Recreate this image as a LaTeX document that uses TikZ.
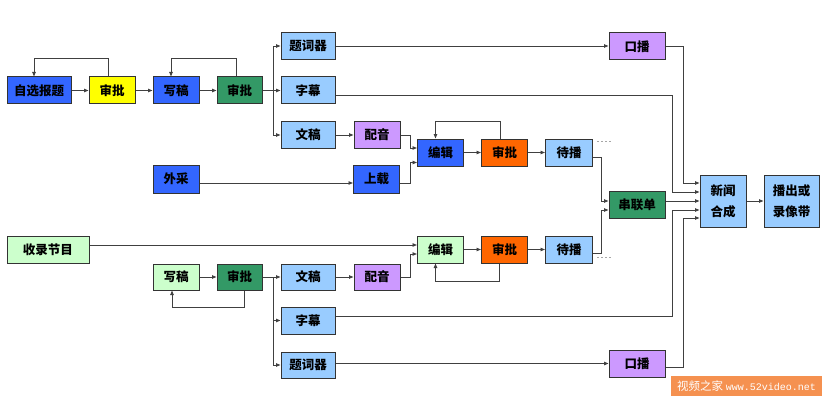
\documentclass[tikz,border=0pt]{standalone}
\usepackage{fontspec}
\newfontfamily\cjk{Noto Sans CJK SC}
\setmonofont{Liberation Mono}
\usetikzlibrary{positioning}
\usetikzlibrary{arrows.meta}

\definecolor{bluebox}{RGB}{51,102,255}
\definecolor{yellowbox}{RGB}{255,255,0}
\definecolor{greenbox}{RGB}{51,153,102}
\definecolor{lightbox}{RGB}{153,204,255}
\definecolor{purplebox}{RGB}{204,153,255}
\definecolor{orangebox}{RGB}{255,102,0}
\definecolor{greenlight}{RGB}{204,255,204}
\definecolor{markorange}{RGB}{245,145,80}

\begin{document}
\begin{tikzpicture}[x=1pt, y=-1pt, node distance=17pt,
	box/.style={draw=black!80, line width=1pt, rectangle, minimum height=27pt,
		inner sep=0pt, font=\cjk\bfseries\fontsize{12.5}{14}\selectfont},
	twoline/.style={align=center, minimum height=52pt,
		font=\cjk\bfseries\fontsize{12.5}{21}\selectfont},
	arr/.style={-{Triangle[length=4.5pt,width=3.5pt]}, draw=black!75, line width=0.9pt},
	ln/.style={draw=black!75, line width=0.9pt},
	dashtail/.style={draw=black!35, dash pattern=on 2pt off 2pt, line width=0.6pt}]
	\useasboundingbox (0,0) rectangle (828,412);

	% upper route
	\node (zixuan) [box, fill=bluebox, minimum width=64pt] at (39,90.5) {自选报题};
	\node (shen1) [box, right=of zixuan, fill=yellowbox, minimum width=46pt] {审批};
	\node (xie1) [box, right=of shen1, fill=bluebox, minimum width=46pt] {写稿};
	\node (shen2) [box, right=of xie1, fill=greenbox, minimum width=45pt] {审批};
	\node (tici1) [box, fill=lightbox, minimum width=54pt] at (308,46) {题词器};
	\node (zimu1) [box, fill=lightbox, minimum width=54pt] at (308,90.5) {字幕};
	\node (wengao1) [box, fill=lightbox, minimum width=54pt] at (308,135) {文稿};
	\node (peiyin1) [box, right=18pt of wengao1, fill=purplebox, minimum width=46pt] {配音};
	\node (waicai) [box, fill=bluebox, minimum width=46pt, minimum height=28pt] at (176,179) {外采};
	\node (shangzai) [box, fill=bluebox, minimum width=46pt, minimum height=28pt] at (376.5,179) {上载};
	\node (bianji1) [box, fill=bluebox, minimum width=46pt] at (440.5,152.5) {编辑};
	\node (shen3) [box, right=of bianji1, fill=orangebox, minimum width=46pt] {审批};
	\node (daibo1) [box, right=of shen3, fill=lightbox, minimum width=47pt] {待播};
	\node (koubo1) [box, fill=purplebox, minimum width=56pt] at (637,46.5) {口播};

	% merge
	\node (chuanlian) [box, fill=greenbox, minimum width=56pt] at (637,205) {串联单};
	\node (xinwen) [box, twoline, fill=lightbox, minimum width=46pt] at (723,201) {新闻\\合成};
	\node (bochu) [box, twoline, right=of xinwen, fill=lightbox, minimum width=55pt] {播出或\\录像带};

	% lower route
	\node (shoulu) [box, fill=greenlight, minimum width=82pt] at (48,249.5) {收录节目};
	\node (bianji2) [box, fill=greenlight, minimum width=46pt] at (440.5,249.5) {编辑};
	\node (shen5) [box, right=of bianji2, fill=orangebox, minimum width=46pt] {审批};
	\node (daibo2) [box, right=of shen5, fill=lightbox, minimum width=47pt] {待播};
	\node (xie2) [box, fill=greenlight, minimum width=46pt, minimum height=26pt] at (176,277) {写稿};
	\node (shen4) [box, right=of xie2, fill=greenbox, minimum width=45pt, minimum height=26pt] {审批};
	\node (wengao2) [box, fill=lightbox, minimum width=54pt, minimum height=26pt] at (308,277) {文稿};
	\node (peiyin2) [box, right=18pt of wengao2, fill=purplebox, minimum width=46pt, minimum height=26pt] {配音};
	\node (zimu2) [box, fill=lightbox, minimum width=54pt] at (308,320.5) {字幕};
	\node (tici2) [box, fill=lightbox, minimum width=54pt, minimum height=26pt] at (308,365) {题词器};
	\node (koubo2) [box, fill=purplebox, minimum width=56pt] at (637,363.5) {口播};

	\node (mark) [fill=markorange, minimum width=151pt, minimum height=20pt, inner sep=0pt,
		text=white] at (746.5,386) {\cjk\fontsize{11.5}{12}\selectfont 视频之家\ %
		{\ttfamily\fontsize{10}{12}\selectfont www.52video.net}};

	% upper connectors
	\draw[arr] (zixuan) -- (shen1);
	\draw[arr] (shen1) -- (xie1);
	\draw[arr] (xie1) -- (shen2);
	\draw[arr] ([xshift=-4pt]shen1.north) -- ++(0,-18) -| ([xshift=-5pt]zixuan.north);
	\draw[arr] ([xshift=-3pt]shen2.north) -- ++(0,-18) -| ([xshift=-5pt]xie1.north);
	\coordinate (fork1) at (273,90.5);
	\draw[ln] (shen2) -- (fork1);
	\draw[arr] (fork1) |- (tici1);
	\draw[arr] (fork1) -- (zimu1);
	\draw[arr] (fork1) |- (wengao1);
	\draw[arr] (wengao1) -- (peiyin1);
	\draw[arr] (peiyin1.east) -- ++(10,0) |- ([yshift=4.5pt]bianji1.west);
	\draw[arr] ([yshift=-4pt]waicai.east) -- ([yshift=-4pt]shangzai.west);
	\draw[arr] ([yshift=-4pt]shangzai.east) -- ++(10,0) |- ([yshift=-10pt]bianji1.west);
	\draw[arr] (bianji1) -- (shen3);
	\draw[arr] (shen3) -- (daibo1);
	\draw[arr] ([xshift=-4pt]shen3.north) -- ++(0,-17) -| ([xshift=-5pt]bianji1.north);
	\draw[dashtail] ([xshift=4pt,yshift=-3pt]daibo1.north east) -- ++(14,0);
	\draw[arr] ([yshift=-4.5pt]daibo1.east) -- ++(8,0) |- ([yshift=4pt]chuanlian.west);
	\draw[arr] (tici1.east) -- (tici1.east -| koubo1.west);
	\draw[arr] (koubo1.east) -- ++(18,0) |- ([yshift=18pt]xinwen.west);
	\draw[arr] ([yshift=-5pt]zimu1.east) -| ([xshift=-27pt,yshift=9pt]xinwen.west) -- ([yshift=9pt]xinwen.west);
	\draw[arr] (chuanlian.east |- xinwen) -- (xinwen);
	\draw[arr] (xinwen) -- (bochu);

	% lower connectors
	\draw[arr] ([yshift=4.5pt]shoulu.east) -- ([yshift=4.5pt]bianji2.west);
	\draw[arr] (xie2) -- (shen4);
	\draw[arr] ([xshift=4.5pt]shen4.south) -- ++(0,17) -| ([xshift=-4pt]xie2.south);
	\coordinate (fork2) at (273,277);
	\draw[ln] (shen4) -- (fork2);
	\draw[arr] (fork2) -- (wengao2);
	\draw[arr] (fork2) |- (zimu2);
	\draw[arr] (fork2) |- (tici2);
	\draw[arr] (wengao2) -- (peiyin2);
	\draw[arr] (peiyin2.east) -- ++(10,0) |- ([yshift=-4.5pt]bianji2.west);
	\draw[arr] (bianji2) -- (shen5);
	\draw[arr] (shen5) -- (daibo2);
	\draw[arr] ([xshift=-5pt]shen5.south) -- ++(0,18) -| ([xshift=-5pt]bianji2.south);
	\draw[dashtail] ([xshift=4pt,yshift=6pt]daibo2.south east) -- ++(14,0);
	\draw[arr] ([yshift=-3.5pt]daibo2.east) -- ++(8,0) |- ([yshift=-5pt]chuanlian.west);
	\draw[arr] ([yshift=4.5pt]zimu2.east) -| ([xshift=-27pt,yshift=-9pt]xinwen.west) -- ([yshift=-9pt]xinwen.west);
	\draw[arr] (tici2.east |- koubo2) -- (koubo2);
	\draw[arr] ([yshift=-3.5pt]koubo2.east) -- ++(18,0) |- ([yshift=-17pt]xinwen.west);
\end{tikzpicture}
\end{document}
